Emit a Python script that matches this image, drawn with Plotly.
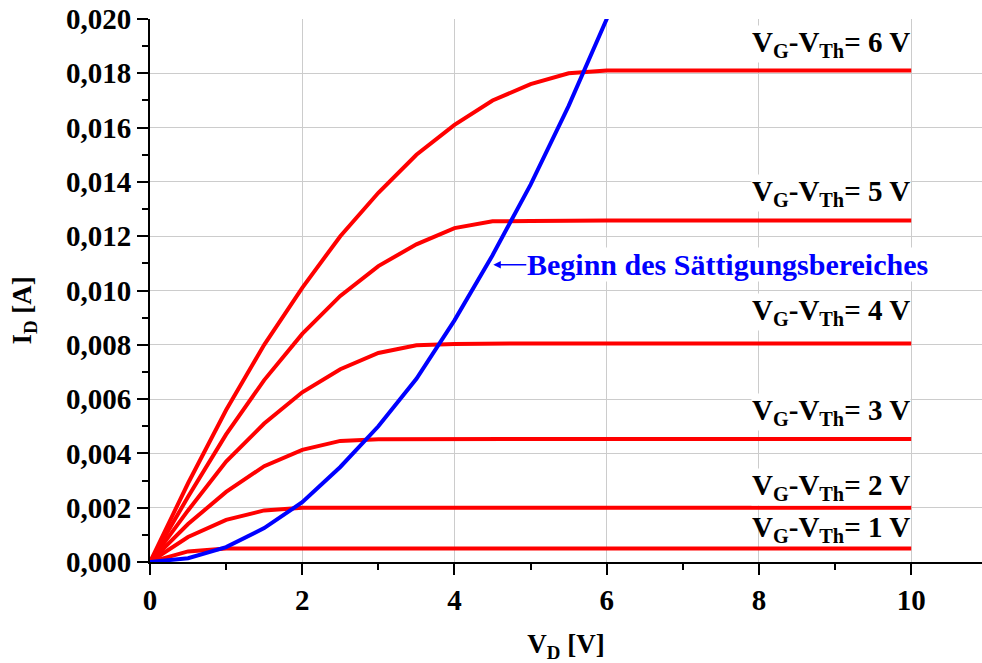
import plotly.graph_objects as go

# Drain voltage samples (V)
vd = [0, 0.5, 1, 1.5, 2, 2.5, 3, 3.5, 4, 4.5, 5, 5.5, 6, 6.5, 7, 7.5, 8, 8.5, 9, 9.5, 10]

# Drain current (A) for each gate overdrive V_G - V_Th
overdrive = [1, 2, 3, 4, 5, 6]
id_1v = [0, 0.00039, 0.0005, 0.0005, 0.0005, 0.0005, 0.0005, 0.0005, 0.0005, 0.0005, 0.0005,
         0.0005, 0.0005, 0.0005, 0.0005, 0.0005, 0.0005, 0.0005, 0.0005, 0.0005, 0.0005]
id_2v = [0, 0.00092, 0.00155, 0.0019, 0.002, 0.002, 0.002, 0.002, 0.002, 0.002, 0.002,
         0.002, 0.002, 0.002, 0.002, 0.002, 0.002, 0.002, 0.002, 0.002, 0.002]
id_3v = [0, 0.0014, 0.00258, 0.00353, 0.00413, 0.00446, 0.00452, 0.00453, 0.00453, 0.00453, 0.00453,
         0.00453, 0.00453, 0.00453, 0.00453, 0.00453, 0.00453, 0.00453, 0.00453, 0.00453, 0.00453]
id_4v = [0, 0.0019, 0.0037, 0.0051, 0.00625, 0.0071, 0.0077, 0.00798, 0.00803, 0.00805, 0.00805,
         0.00805, 0.00805, 0.00805, 0.00805, 0.00805, 0.00805, 0.00805, 0.00805, 0.00805, 0.00805]
id_5v = [0, 0.0024, 0.0047, 0.0067, 0.0084, 0.0098, 0.0109, 0.0117, 0.0123, 0.01255, 0.01256,
         0.01258, 0.01258, 0.01258, 0.01258, 0.01258, 0.01258, 0.01258, 0.01258, 0.01258, 0.01258]
id_6v = [0, 0.0029, 0.0056, 0.0080, 0.0101, 0.0120, 0.0136, 0.0150, 0.0161, 0.0170, 0.0176,
         0.0180, 0.0181, 0.0181, 0.0181, 0.0181, 0.0181, 0.0181, 0.0181, 0.0181, 0.0181]
curves = [id_1v, id_2v, id_3v, id_4v, id_5v, id_6v]

# Boundary of the saturation region
vd_sat = [0, 0.5, 1, 1.5, 2, 2.5, 3, 3.5, 4, 4.5, 5, 5.5, 6, 6.5]
id_sat = [0, 0.00014, 0.00055, 0.00125, 0.0022, 0.0035, 0.005, 0.00675, 0.0089, 0.0113,
          0.0139, 0.0168, 0.0200, 0.0232]

x_ticks = [0, 2, 4, 6, 8, 10]
y_ticks = [0, 0.002, 0.004, 0.006, 0.008, 0.010, 0.012, 0.014, 0.016, 0.018, 0.020]

# Label placement above each curve (pixels) and whether the label box is opaque
label_shift = [0, 2, 8, 12, 8, 8]
label_opaque = [False, True, True, True, True, True]
arrow_target = (4.51, 0.01095)

FONT = "Liberation Serif"
fig = go.Figure()

for ids in curves:
    fig.add_trace(go.Scatter(x=vd, y=ids, mode="lines",
                             line=dict(color="#ff0000", width=4), hoverinfo="skip"))

fig.add_trace(go.Scatter(x=vd_sat, y=id_sat, mode="lines",
                         line=dict(color="#0000ff", width=4), hoverinfo="skip"))

for ov, ids, sh, opaque in zip(overdrive, curves, label_shift, label_opaque):
    fig.add_annotation(
        x=10, y=ids[-1], xref="x", yref="y", xanchor="right", yanchor="bottom",
        yshift=sh, showarrow=False,
        text=f"<b>V<sub>G</sub>-V<sub>Th</sub>= {ov} V</b>",
        font=dict(family=FONT, size=29, color="black"),
        borderpad=0, bgcolor="white" if opaque else "rgba(0,0,0,0)",
    )

fig.add_annotation(
    x=arrow_target[0], y=arrow_target[1], xref="x", yref="y",
    text="<b>Beginn des Sättigungsbereiches</b>",
    font=dict(family=FONT, size=30, color="#0000ff"),
    showarrow=True, arrowhead=2, arrowsize=1, arrowwidth=1.5, arrowcolor="#0000ff",
    ax=33, ay=0, xanchor="left", yanchor="middle", standoff=0, bgcolor="white",
    borderpad=0,
)

# Vertical axis title, set slightly below the plot's centre line
fig.add_annotation(
    x=0, y=0.463, xref="paper", yref="paper", xshift=-126,
    text="<b>I<sub>D</sub> [A]</b>", textangle=-90, showarrow=False,
    font=dict(family=FONT, size=27, color="black"),
    xanchor="center", yanchor="middle",
)

axis_common = dict(
    showline=True, linecolor="black", linewidth=2,
    ticks="outside", ticklen=11, tickwidth=2, tickcolor="black",
    showgrid=True, gridcolor="#cccccc", gridwidth=1,
    zeroline=False, mirror=False, automargin=False,
    tickfont=dict(family=FONT, size=29, color="black"),
)

fig.update_xaxes(
    range=[0, 10.93], tickvals=x_ticks, ticktext=[f"<b>{v}</b>" for v in x_ticks],
    minor=dict(ticks="outside", ticklen=6, tickwidth=2, tickcolor="black", dtick=1, tick0=0,
               showgrid=False),
    title=dict(text="<b>V<sub>D</sub> [V]</b>", font=dict(family=FONT, size=27, color="black"),
               standoff=30),
    **axis_common,
)
fig.update_yaxes(
    range=[0, 0.020], tickvals=y_ticks,
    ticktext=["<b>" + f"{v:.3f}".replace(".", ",") + "</b>" for v in y_ticks],
    minor=dict(ticks="outside", ticklen=6, tickwidth=2, tickcolor="black", dtick=0.001, tick0=0,
               showgrid=False),
    **axis_common,
)

fig.update_layout(
    width=982, height=663,
    margin=dict(l=150, r=0, t=19, b=101),
    paper_bgcolor="white", plot_bgcolor="white",
    showlegend=False,
)

fig.write_html("out.html")
